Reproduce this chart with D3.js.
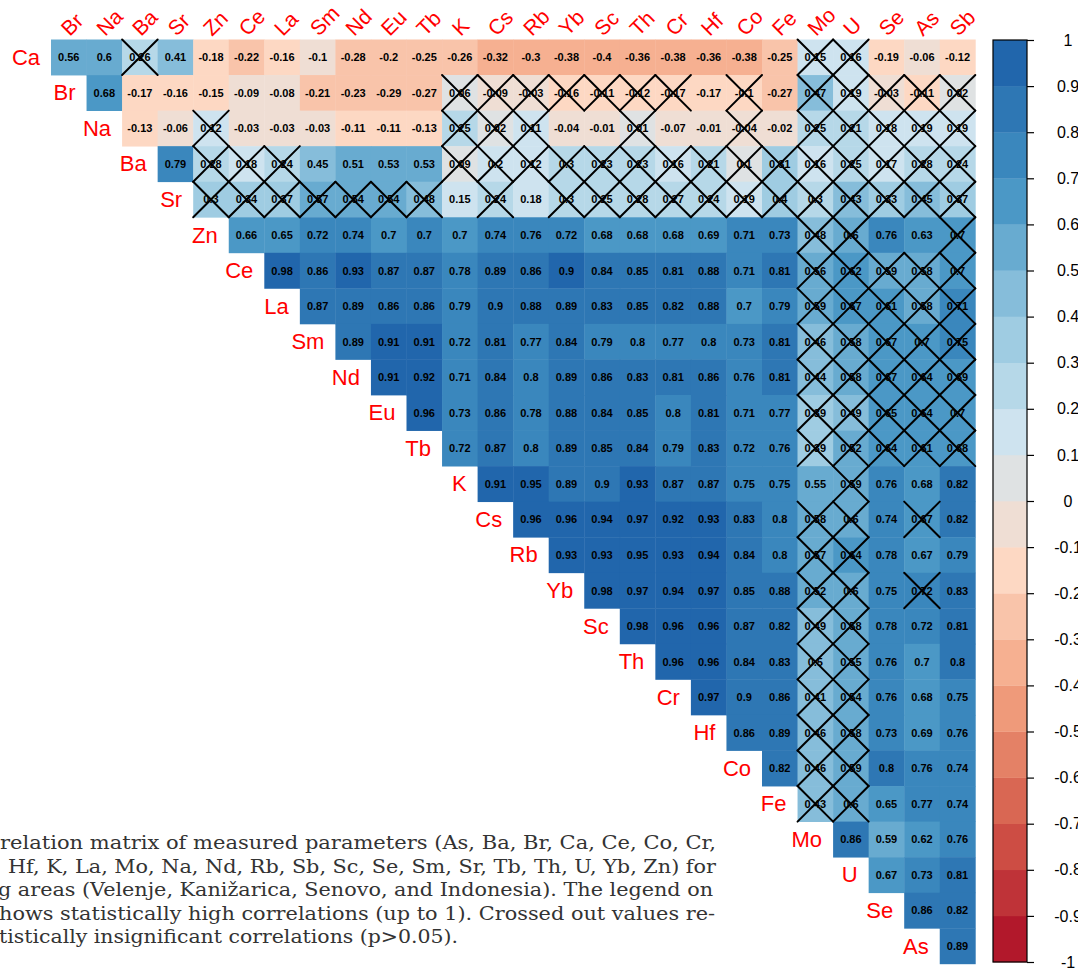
<!DOCTYPE html>
<html>
<head>
<meta charset="utf-8">
<script src="https://cdn.jsdelivr.net/npm/d3@7"></script>
<style>
  html, body { margin: 0; padding: 0; background: #fff; overflow: hidden; }
  svg { display: block; }
</style>
</head>
<body>
<svg id="chart" width="1078" height="971"></svg>
<script>
// Element order: rows run Ca..As, columns run Br..Sb (upper triangle, no diagonal)
const elements = ["Ca","Br","Na","Ba","Sr","Zn","Ce","La","Sm","Nd","Eu","Tb","K","Cs","Rb","Yb","Sc","Th","Cr","Hf","Co","Fe","Mo","U","Se","As","Sb"];

// Correlation coefficients, one row per element (from the next element to Sb)
const rCa = [0.56,0.6,0.26,0.41,-0.18,-0.22,-0.16,-0.099,-0.28,-0.2,-0.25,-0.26,-0.32,-0.3,-0.38,-0.398,-0.36,-0.38,-0.36,-0.38,-0.25,0.15,0.16,-0.19,-0.06,-0.12];
const rBr = [0.68,-0.17,-0.16,-0.15,-0.09,-0.08,-0.21,-0.23,-0.29,-0.27,0.06,-0.09,-0.03,-0.16,-0.11,-0.12,-0.17,-0.17,-0.1,-0.27,0.47,0.19,-0.03,-0.11,0.02];
const rNa = [-0.13,-0.06,0.12,-0.03,-0.03,-0.03,-0.11,-0.11,-0.13,0.25,0.02,0.11,-0.04,-0.01,0.01,-0.07,-0.01,-0.04,-0.02,0.25,0.21,0.18,0.19,0.19];
const rBa = [0.79,0.28,0.18,0.24,0.45,0.51,0.53,0.53,0.09,0.2,0.12,0.3,0.23,0.23,0.16,0.21,0.1,0.31,0.16,0.25,0.17,0.28,0.24];
const rSr = [0.302,0.34,0.37,0.57,0.54,0.54,0.48,0.15,0.24,0.18,0.3,0.25,0.28,0.27,0.24,0.19,0.4,0.3,0.43,0.33,0.45,0.37];
const rZn = [0.66,0.65,0.72,0.74,0.7,0.702,0.7,0.74,0.76,0.72,0.68,0.68,0.68,0.69,0.71,0.73,0.48,0.6,0.76,0.63,0.7];
const rCe = [0.98,0.86,0.93,0.87,0.87,0.78,0.89,0.86,0.902,0.84,0.85,0.81,0.88,0.71,0.81,0.56,0.62,0.59,0.58,0.7];
const rLa = [0.87,0.89,0.86,0.86,0.79,0.9,0.88,0.89,0.83,0.85,0.82,0.88,0.7,0.79,0.59,0.67,0.61,0.58,0.71];
const rSm = [0.89,0.91,0.91,0.72,0.81,0.77,0.84,0.79,0.8,0.77,0.8,0.73,0.81,0.46,0.58,0.67,0.7,0.75];
const rNd = [0.91,0.92,0.71,0.84,0.8,0.89,0.86,0.83,0.81,0.86,0.76,0.81,0.44,0.58,0.67,0.64,0.69];
const rEu = [0.96,0.73,0.86,0.78,0.88,0.84,0.85,0.8,0.81,0.71,0.77,0.39,0.49,0.65,0.64,0.7];
const rTb = [0.72,0.87,0.8,0.89,0.85,0.84,0.79,0.83,0.72,0.76,0.39,0.52,0.64,0.61,0.68];
const rK  = [0.91,0.95,0.89,0.9,0.93,0.87,0.87,0.75,0.75,0.55,0.59,0.76,0.68,0.82];
const rCs = [0.96,0.96,0.94,0.97,0.92,0.93,0.83,0.8,0.58,0.6,0.74,0.67,0.82];
const rRb = [0.93,0.93,0.95,0.93,0.94,0.84,0.8,0.57,0.64,0.78,0.67,0.79];
const rYb = [0.98,0.97,0.94,0.97,0.85,0.88,0.52,0.6,0.75,0.72,0.83];
const rSc = [0.98,0.96,0.96,0.87,0.82,0.49,0.58,0.78,0.72,0.81];
const rTh = [0.96,0.96,0.84,0.83,0.5,0.55,0.76,0.7,0.802];
const rCr = [0.97,0.9,0.86,0.41,0.54,0.76,0.68,0.75];
const rHf = [0.86,0.89,0.46,0.58,0.73,0.69,0.76];
const rCo = [0.82,0.46,0.59,0.802,0.76,0.74];
const rFe = [0.43,0.6,0.65,0.77,0.74];
const rMo = [0.86,0.59,0.62,0.76];
const rU  = [0.67,0.73,0.81];
const rSe = [0.86,0.82];
const rAs = [0.89];

// Pairs that are not statistically significant (p > 0.05), crossed out
const insignificant = {
  Ca: ["Ba","Mo","U"],
  Br: ["K","Cs","Rb","Yb","Sc","Th","Cr","Co","Mo","U","Se","As","Sb"],
  Na: ["Zn","K","Cs","Rb","Th","Co","Mo","U","Se","As","Sb"],
  Ba: ["Zn","Ce","La","K","Cs","Rb","Yb","Sc","Th","Cr","Hf","Co","Fe","Mo","U","Se","As","Sb"],
  Sr: ["Zn","Ce","La","Sm","Nd","Eu","Tb","Cs","Yb","Sc","Th","Cr","Hf","Co","Fe","Mo","U","Se","As","Sb"],
  Zn: ["Mo","U","Sb"],
  Ce: ["Mo","U","Se","As","Sb"],
  La: ["Mo","U","Se","As","Sb"],
  Sm: ["Mo","U","Se","As","Sb"],
  Nd: ["Mo","U","Se","As","Sb"],
  Eu: ["Mo","U","Se","As","Sb"],
  Tb: ["Mo","U","Se","As","Sb"],
  K:  ["U"],
  Cs: ["Mo","U","As"],
  Rb: ["Mo","U"],
  Yb: ["Mo","U","As"],
  Sc: ["Mo","U"],
  Th: ["Mo","U"],
  Cr: ["Mo","U"],
  Hf: ["Mo","U"],
  Co: ["Mo","U"],
  Fe: ["Mo","U"]
};

const legendTicks = [1,0.9,0.8,0.7,0.6,0.5,0.4,0.3,0.2,0.1,0,-0.1,-0.2,-0.3,-0.4,-0.5,-0.6,-0.7,-0.8,-0.9,-1];

const captionLines = [
  "relation matrix of measured parameters (As, Ba, Br, Ca, Ce, Co, Cr,",
  "Hf, K, La, Mo, Na, Nd, Rb, Sb, Sc, Se, Sm, Sr, Tb, Th, U, Yb, Zn) for",
  "g areas (Velenje, Kanižarica, Senovo, and Indonesia). The legend on",
  "hows statistically high correlations (up to 1). Crossed out values re-",
  "tistically insignificant correlations (p>0.05)."
];

const rowsData = [rCa,rBr,rNa,rBa,rSr,rZn,rCe,rLa,rSm,rNd,rEu,rTb,rK,rCs,rRb,rYb,rSc,rTh,rCr,rHf,rCo,rFe,rMo,rU,rSe,rAs];
const rowNames = elements.slice(0, elements.length - 1);
const colNames = elements.slice(1);

const cells = [];
rowNames.forEach((rn, i) => {
  rowsData[i].forEach((v, k) => {
    const cn = colNames[i + k];
    cells.push({ row: rn, col: cn, value: v, crossed: (insignificant[rn] || []).includes(cn) });
  });
});

// 20-step diverging palette (RdBu, red for -1, blue for +1)
const rdbu8 = ["#B2182B","#D6604D","#F4A582","#FDDBC7","#D1E5F0","#92C5DE","#4393C3","#2166AC"];
const ramp = d3.piecewise(d3.interpolateRgb, rdbu8);
const palette = d3.range(20).map(i => ramp(i / 19));
const binColor = v => {
  let idx = Math.ceil((v + 1) * 10 - 1e-9) - 1;
  idx = Math.max(0, Math.min(19, idx));
  return palette[idx];
};

const svg = d3.select("#chart");
const cellSize = 35.55;
const gx0 = 51, gy0 = 39.5;
const x = d3.scaleBand().domain(colNames).range([gx0, gx0 + cellSize * colNames.length]);
const y = d3.scaleBand().domain(rowNames).range([gy0, gy0 + cellSize * rowNames.length]);

const grid = svg.append("g");
grid.selectAll("rect.cell").data(cells).join("rect")
  .attr("class", "cell")
  .attr("x", d => x(d.col)).attr("y", d => y(d.row))
  .attr("width", x.bandwidth() + 0.4).attr("height", y.bandwidth() + 0.4)
  .attr("fill", d => binColor(d.value));

const fmt = v => String(Number(v.toFixed(2)));
grid.selectAll("text.val").data(cells).join("text")
  .attr("class", "val")
  .attr("x", d => x(d.col) + x.bandwidth() / 2)
  .attr("y", d => y(d.row) + y.bandwidth() / 2)
  .attr("text-anchor", "middle").attr("dominant-baseline", "central")
  .attr("font-family", "Liberation Sans, Arial, sans-serif")
  .attr("font-weight", "bold").attr("font-size", 11)
  .attr("fill", "#000")
  .text(d => fmt(d.value));

const crossed = cells.filter(d => d.crossed);
const crossG = grid.append("g").attr("stroke", "#000").attr("stroke-width", 2).attr("stroke-linecap", "round");
crossed.forEach(d => {
  const x0 = x(d.col), y0 = y(d.row), w = x.bandwidth(), h = y.bandwidth();
  crossG.append("line").attr("x1", x0).attr("y1", y0).attr("x2", x0 + w).attr("y2", y0 + h);
  crossG.append("line").attr("x1", x0 + w).attr("y1", y0).attr("x2", x0).attr("y2", y0 + h);
});

// Column labels along the top, rotated 45 degrees
svg.append("g").selectAll("text").data(colNames).join("text")
  .attr("transform", d => `translate(${x(d) + x.bandwidth() / 2 + 1},${gy0 - 2.5}) rotate(-45)`)
  .attr("font-family", "Liberation Sans, Arial, sans-serif")
  .attr("font-size", 21).attr("fill", "#FF0000")
  .text(d => d);

// Row labels along the diagonal
svg.append("g").selectAll("text").data(rowNames).join("text")
  .attr("x", (d, i) => x(colNames[i]) - 11)
  .attr("y", d => y(d) + y.bandwidth() / 2)
  .attr("text-anchor", "end").attr("dominant-baseline", "central")
  .attr("font-family", "Liberation Sans, Arial, sans-serif")
  .attr("font-size", 22).attr("fill", "#FF0000")
  .text(d => d);

// Colour legend
const ly = d3.scaleLinear().domain([1, -1]).range([40, 962]);
const legend = svg.append("g");
const bins = d3.range(20).map(i => ({ lo: -1 + i * 0.1, hi: -1 + (i + 1) * 0.1, color: palette[i] }));
legend.selectAll("rect.bin").data(bins).join("rect")
  .attr("class", "bin")
  .attr("x", 993).attr("width", 34)
  .attr("y", d => ly(d.hi)).attr("height", d => ly(d.lo) - ly(d.hi) + 0.3)
  .attr("fill", d => d.color);
legend.append("rect").attr("x", 993).attr("y", ly(1)).attr("width", 34).attr("height", ly(-1) - ly(1))
  .attr("fill", "none").attr("stroke", "#000").attr("stroke-width", 1.2);
const axis = d3.axisRight(ly).tickValues(legendTicks).tickSize(7).tickFormat(d => String(d));
const axG = legend.append("g").attr("transform", "translate(1027,0)").call(axis);
axG.select(".domain").remove();
axG.selectAll(".tick line").attr("stroke", "#000").attr("stroke-width", 1.2);
axG.selectAll(".tick text")
  .attr("x", 41).attr("text-anchor", "middle")
  .attr("font-family", "Liberation Sans, Arial, sans-serif").attr("font-size", 16).attr("fill", "#000");

// Figure caption (runs past the left edge of the page)
const cap = svg.append("g").attr("font-family", "DejaVu Serif, serif").attr("font-size", 18.5).attr("fill", "#333");
const capX = [0, 8, -2, -1, -1];
const capW = [716, 708, 715, 716, 459];
captionLines.forEach((t, i) => {
  cap.append("text").attr("x", capX[i]).attr("y", 849 + i * 23.6)
    .attr("textLength", capW[i]).attr("lengthAdjust", "spacingAndGlyphs")
    .text(t);
});
</script>
</body>
</html>
